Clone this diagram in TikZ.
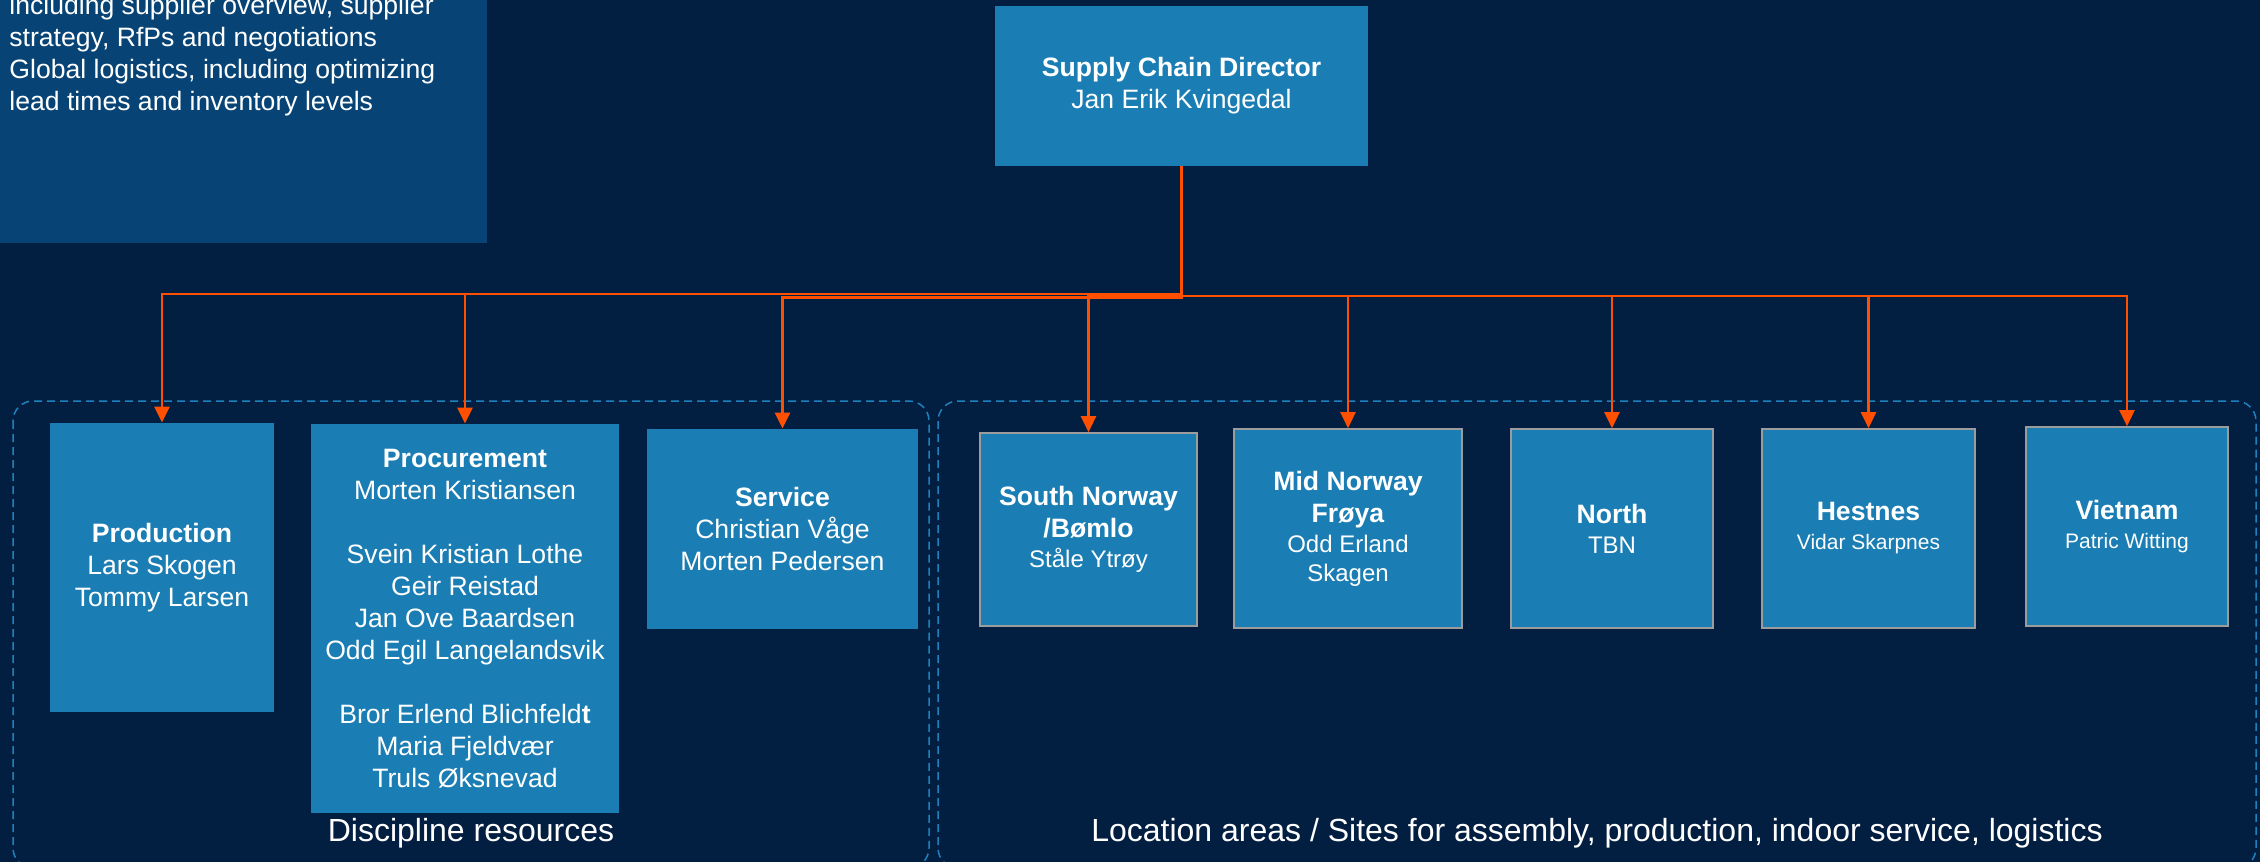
\documentclass[tikz,border=0pt]{standalone}
\usepackage{fontspec}
\setmainfont{Liberation Sans}
\usetikzlibrary{arrows.meta}
\definecolor{bgnavy}{HTML}{021E41}
\definecolor{boxblue}{HTML}{1A7DB3}
\definecolor{infoblue}{HTML}{074475}
\definecolor{connorange}{HTML}{FF4F00}
\definecolor{grpblue}{HTML}{1F82BD}
\definecolor{edgegray}{HTML}{9C9C9C}
\newcommand{\nm}[1]{{\fontsize{12}{15}\selectfont #1}}
\newcommand{\nms}[1]{{\fontsize{10.5}{14}\selectfont #1}}
\begin{document}
\begin{tikzpicture}[x=0.5pt,y=-0.5pt,
  orgbox/.style={fill=boxblue, draw=none, text=white, align=center, inner sep=0pt,
    font=\fontsize{13.3}{16}\selectfont},
  sitebox/.style={orgbox, draw=edgegray, line width=0.8pt},
  conn/.style={draw=connorange, line width=1.25pt, -{Triangle[width=7.5pt,length=8pt]}},
  trunk/.style={draw=connorange, line width=1.8pt},
  grp/.style={draw=grpblue, line width=0.75pt, dash pattern=on 4pt off 2.5pt, rounded corners=10pt},
  caption/.style={text=white, inner sep=0pt, anchor=base, font=\fontsize{16}{19}\selectfont}
]
\useasboundingbox (0,0) rectangle (2260,862);
\fill[bgnavy] (0,0) rectangle (2260,862);

% info box top left
\fill[infoblue] (0,0) rectangle (487,243);
\node[text=white, align=left, inner sep=0pt, anchor=base west,
  font=\fontsize{13.3}{16}\selectfont] (info) at (9,110)
  {including supplier overview, supplier\\strategy, RfPs and negotiations\\Global logistics, including optimizing\\lead times and inventory levels};

% groups
\draw[grp] (13,401) rectangle (929,868);
\draw[grp] (938,401) rectangle (2256,868);

% director
\node[orgbox, minimum width=186.5pt, minimum height=80pt] (dir) at (1181.5,86)
  {\textbf{Supply Chain Director}\\Jan Erik Kvingedal};

% discipline boxes
\node[orgbox, minimum width=112pt, minimum height=144.5pt] (prod) at (162,567.5)
  {\textbf{Production}\\Lars Skogen\\Tommy Larsen};
\node[orgbox, minimum width=154pt, minimum height=194.5pt] (proc) at (465,618.5)
  {\textbf{Procurement}\\Morten Kristiansen\\[16pt]Svein Kristian Lothe\\Geir Reistad\\Jan Ove Baardsen\\Odd Egil Langelandsvik\\[16pt]Bror Erlend Blichfeld\textbf{t}\\Maria Fjeldvær\\Truls Øksnevad};
\node[orgbox, minimum width=135.5pt, minimum height=100pt] (serv) at (782.5,529)
  {\textbf{Service}\\Christian Våge\\Morten Pedersen};

% site boxes
\node[sitebox, minimum width=108.5pt, minimum height=96.5pt] (south) at (1088.5,529.5)
  {\textbf{South Norway}\\\textbf{/Bømlo}\\[-1pt]\nm{Ståle Ytrøy}};
\node[sitebox, minimum width=114pt, minimum height=99.5pt] (mid) at (1348,528.5)
  {\textbf{Mid Norway}\\\textbf{Frøya}\\[-1pt]\nm{Odd Erland}\\[-1.5pt]\nm{Skagen}};
\node[sitebox, minimum width=101pt, minimum height=99.5pt] (north) at (1612,528.5)
  {\textbf{North}\\[-1pt]\nm{TBN}};
\node[sitebox, minimum width=106.5pt, minimum height=99.5pt] (hest) at (1868.5,528.5)
  {\textbf{Hestnes}\\[-1.5pt]\nms{Vidar Skarpnes}};
\node[sitebox, minimum width=101pt, minimum height=99.5pt] (viet) at (2127,526.5)
  {\textbf{Vietnam}\\[-1.5pt]\nms{Patric Witting}};

% captions
\node[caption] (capL) at (471,841) {Discipline resources};
\node[caption] (capR) at (1597,841) {Location areas / Sites for assembly, production, indoor service, logistics};

% connectors
\coordinate (busA) at (0,294);
\coordinate (busB) at (0,297.5);
\coordinate (busC) at (0,296);
\draw[conn] (dir.south) -- (dir.south |- busA) -| (prod.north);
\draw[conn] (dir.south) -- (dir.south |- busA) -| (proc.north);
\draw[conn] (dir.south) -- (dir.south |- busB) -| (serv.north);
\draw[conn] (dir.south) -- (dir.south |- busC) -| (south.north);
\draw[conn] (dir.south) -- (dir.south |- busC) -| (mid.north);
\draw[conn] (dir.south) -- (dir.south |- busC) -| (north.north);
\draw[conn] (dir.south) -- (dir.south |- busC) -| (hest.north);
\draw[conn] (dir.south) -- (dir.south |- busC) -| (viet.north);
\draw[trunk] (dir.south) -- (dir.south |- busC);
\end{tikzpicture}
\end{document}
